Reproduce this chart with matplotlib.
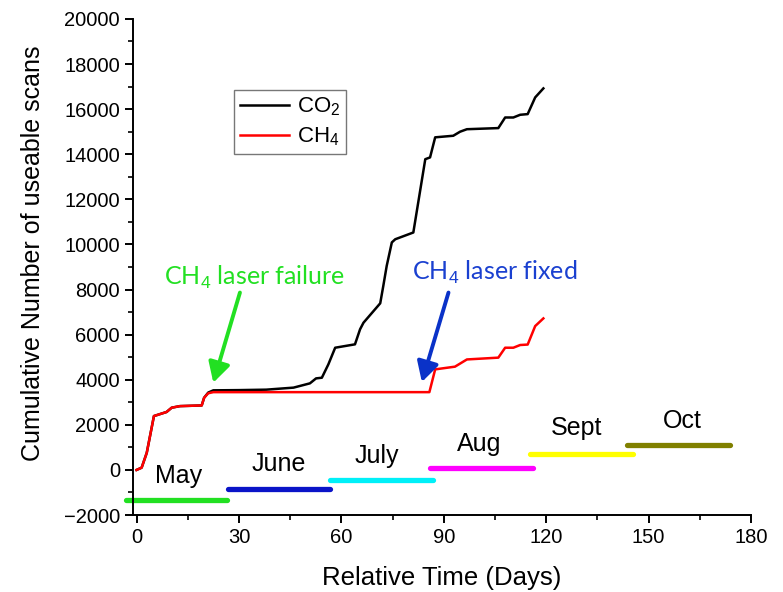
import numpy as np
import matplotlib
matplotlib.use('Agg')
import matplotlib.pyplot as plt

plt.rcParams['font.family'] = ['Liberation Sans', 'DejaVu Sans']
plt.rcParams['mathtext.fontset'] = 'custom'
plt.rcParams['mathtext.rm'] = 'Liberation Sans'
plt.rcParams['mathtext.it'] = 'Liberation Sans:italic'

# cumulative scans
days_co2 = [0, 1.5, 3, 5.1, 8.8, 10.3, 12.7, 19.1, 19.8, 21, 22.5, 30, 38, 46,
            50.8, 52.6, 54.3, 56.2, 58.2, 64, 65.5, 66.5, 71.4, 72.3, 73.3,
            74.8, 75.8, 81.1, 84.6, 86, 87.5, 92.8, 94.8, 96.8, 106, 108,
            110.4, 112.4, 114.6, 116.8, 119.2]
co2 = [0, 100, 760, 2390, 2570, 2760, 2830, 2860, 3200, 3430, 3530, 3540,
       3560, 3650, 3840, 4060, 4090, 4680, 5420, 5570, 6240, 6530, 7390, 8160,
       9050, 10090, 10230, 10530, 13780, 13860, 14750, 14820, 15000, 15110,
       15160, 15630, 15630, 15750, 15780, 16520, 16920]

days_ch4 = [0, 1.5, 3, 5.1, 8.8, 10.3, 12.7, 19.1, 19.8, 21, 22.5, 85.8, 87.5,
            93.3, 96.8, 106, 108, 110.4, 112.4, 114.6, 116.8, 119.2]
ch4 = [0, 100, 760, 2390, 2570, 2760, 2830, 2860, 3200, 3400, 3450, 3450,
       4460, 4580, 4900, 4980, 5420, 5420, 5540, 5560, 6380, 6720]

# month bars: label, start, end, level, colour
months = ['May', 'June', 'July', 'Aug', 'Sept', 'Oct']
m_start = [-3.2, 26.7, 56.7, 86, 115.3, 143.7]
m_end = [26.4, 56.7, 86.8, 116.3, 145.4, 173.9]
m_level = [-1350, -835, -450, 80, 690, 1090]
m_label_x = [12.2, 41.6, 70.4, 100.5, 129, 160]
m_label_y = [-270, 275, 610, 1130, 1870, 2170]
m_colors = ['#22e022', '#0a14c8', '#00f0f8', '#ff00ff', '#ffff00', '#808000']

fig = plt.figure(figsize=(7.83, 5.92), dpi=100)
ax = fig.add_axes([0.170, 0.130, 0.789, 0.838])

ax.plot(days_co2, co2, color='black', lw=1.8, label='CO$_2$')
ax.plot(days_ch4, ch4, color='red', lw=1.8, label='CH$_4$')

for i in range(len(months)):
    ax.plot([m_start[i], m_end[i]], [m_level[i], m_level[i]], color=m_colors[i],
            lw=3.8, solid_capstyle='round', clip_on=False)
    ax.text(m_label_x[i], m_label_y[i], months[i], fontsize=18,
            ha='center', va='center')

# annotations
arrow_style = '-|>,head_width=0.33,head_length=0.6'
ax.annotate('', xy=(22.5, 3870), xytext=(30.3, 7866),
            arrowprops=dict(arrowstyle=arrow_style, color='#22e022', lw=2.8,
                            mutation_scale=20, shrinkA=0, shrinkB=0))
ax.text(34.7, 8545, 'CH$_4$ laser failure', color='#22e022', fontsize=18,
        family=['Lato', 'DejaVu Sans'], ha='center', va='center')

ax.annotate('', xy=(83.6, 3900), xytext=(91.4, 7866),
            arrowprops=dict(arrowstyle=arrow_style, color='#0a32c8', lw=2.8,
                            mutation_scale=20, shrinkA=0, shrinkB=0))
ax.text(104.9, 8767, 'CH$_4$ laser fixed', color='#1a40d0', fontsize=18,
        family=['Lato', 'DejaVu Sans'], ha='center', va='center')

ax.set_xlim(-1, 180)
ax.set_ylim(-2000, 20000)
ax.set_xticks(np.arange(0, 181, 30))
ax.set_xticks(np.arange(15, 180, 30), minor=True)
ax.set_yticks(np.arange(-2000, 20001, 2000))
ax.set_yticks(np.arange(-1000, 20000, 2000), minor=True)
ax.spines['top'].set_visible(False)
ax.spines['right'].set_visible(False)
for s in ['left', 'bottom']:
    ax.spines[s].set_linewidth(1.4)
ax.tick_params(which='major', direction='out', length=6, width=1.4,
               labelsize=14.5)
ax.tick_params(which='minor', direction='out', length=3.5, width=1.2)

ax.set_xlabel('Relative Time (Days)', fontsize=18.5)
ax.set_ylabel('Cumulative Number of useable scans', fontsize=18)
ax.xaxis.set_label_coords(0.5, -0.103)
ax.yaxis.set_label_coords(-0.143, 0.528)

leg = ax.legend(loc='upper left', bbox_to_anchor=(0.164, 0.857), fontsize=16,
                frameon=True, fancybox=False, handlelength=2.2,
                borderaxespad=0, borderpad=0.25, handletextpad=0.35,
                labelspacing=0.35)
leg.get_frame().set_edgecolor('#555555')
leg.get_frame().set_linewidth(1.0)

fig.savefig('out.png', dpi=100)
